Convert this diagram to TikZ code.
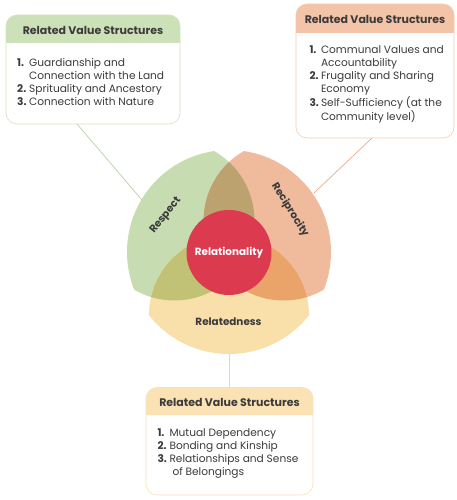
\documentclass[tikz,border=0pt]{standalone}
\usepackage{fontspec}
\setmainfont{Poppins}
\definecolor{petG}{HTML}{C7DDB1}
\definecolor{petO}{HTML}{F0BB9D}
\definecolor{petY}{HTML}{F9E0AB}
\definecolor{petGO}{HTML}{BBA26E}
\definecolor{petGY}{HTML}{C2C276}
\definecolor{petOY}{HTML}{EAA469}
\definecolor{hG}{HTML}{CCE1B8}
\definecolor{hO}{HTML}{F4C4A8}
\definecolor{hY}{HTML}{FAE2B4}
\definecolor{bG}{HTML}{D2E4C2}
\definecolor{bO}{HTML}{F3CCB5}
\definecolor{bY}{HTML}{F6E2BA}
\definecolor{lG}{HTML}{B9D2A3}
\definecolor{lO}{HTML}{EBAA88}
\definecolor{lY}{HTML}{EFD7A2}
\definecolor{relred}{HTML}{DC3A4F}
\definecolor{txt}{HTML}{3B3B3B}
\begin{document}
\begin{tikzpicture}[x=1pt,y=-1pt,
  head/.style={text=txt,font=\bfseries\fontsize{11}{13}\selectfont,inner sep=0pt},
  listtext/.style={text=txt,font=\fontsize{10.6}{13}\selectfont,inner sep=0pt,anchor=base west},
  petlabel/.style={text=txt,font=\bfseries\fontsize{10.4}{12}\selectfont,inner sep=0pt},
  boxframe/.style={rounded corners=11pt,line width=0.6pt,inner sep=0pt},
  conn/.style={line width=0.7pt}]
\useasboundingbox (0,0) rectangle (457,500);
\fill[white] (0,0) rectangle (457,500);

% petals
\coordinate (O) at (229,252);
\coordinate (cg) at (174.4,220.5);
\coordinate (co) at (283.6,220.5);
\coordinate (cy) at (229,315);
\begin{scope}
  \clip (O) circle (102pt);
  \fill[petG] (cg) circle (80pt);
  \fill[petO] (co) circle (80pt);
  \fill[petY] (cy) circle (80pt);
  \begin{scope}
    \clip (cg) circle (80pt);
    \fill[petGO] (co) circle (80pt);
    \fill[petGY] (cy) circle (80pt);
  \end{scope}
  \begin{scope}
    \clip (co) circle (80pt);
    \fill[petOY] (cy) circle (80pt);
  \end{scope}
\end{scope}

\node[circle,fill=relred,minimum size=85pt,inner sep=0pt,text=white,
      font=\bfseries\fontsize{10.4}{12}\selectfont] (rel) at (229,252.5) {Relationality};
\node[petlabel,rotate=51] (lresp) at (165.8,215.8) {Respect};
\node[petlabel,rotate=-58] (lrec) at (290,210) {Reciprocity};
\node[petlabel] (lreld) at (228.5,322) {Relatedness};

% box 1 (green)
\fill[white,rounded corners=11pt] (6,15) rectangle (180,124);
\fill[hG] (6,43) [rounded corners=11pt] -- (6,15) -- (180,15) [sharp corners] -- (180,43) -- cycle;
\node[boxframe,draw=bG,minimum width=174pt,minimum height=109pt] (box1) at (93,69.5) {};
\node[head] (h1) at (93,30.7) {Related Value Structures};
\node[listtext] (t1) at (17,66.3) {\begin{tabular}[t]{@{}p{12pt}@{}l@{}}
\textbf{1.} & Guardianship and\\
 & Connection with the Land\\
\textbf{2.} & Sprituality and Ancestory\\
\textbf{3.} & Connection with Nature
\end{tabular}};

% box 2 (orange)
\fill[white,rounded corners=11pt] (296,4) rectangle (454,138);
\fill[hO] (296,33) [rounded corners=11pt] -- (296,4) -- (454,4) [sharp corners] -- (454,33) -- cycle;
\node[boxframe,draw=bO,minimum width=158pt,minimum height=134pt] (box2) at (375,71) {};
\node[head] (h2) at (375,19.3) {Related Value Structures};
\node[listtext] (t2) at (309.3,54) {\begin{tabular}[t]{@{}p{11.5pt}@{}l@{}}
\textbf{1.} & Communal Values and\\
 & Accountability\\
\textbf{2.} & Frugality and Sharing\\
 & Economy\\
\textbf{3.} & Self-Sufficiency (at the\\
 & Community level)
\end{tabular}};

% box 3 (yellow)
\fill[white,rounded corners=11pt] (146,387.5) rectangle (313,495);
\fill[hY] (146,415) [rounded corners=11pt] -- (146,387.5) -- (313,387.5) [sharp corners] -- (313,415) -- cycle;
\node[boxframe,draw=bY,minimum width=167pt,minimum height=107.5pt] (box3) at (229.5,441.25) {};
\node[head] (h3) at (229.5,402.3) {Related Value Structures};
\node[listtext] (t3) at (157.3,436.6) {\begin{tabular}[t]{@{}p{12pt}@{}l@{}}
\textbf{1.} & Mutual Dependency\\
\textbf{2.} & Bonding and Kinship\\
\textbf{3.} & Relationships and Sense\\
 & \hspace{3pt}of Belongings
\end{tabular}};

% connectors
\coordinate (c1a) at (77,124);
\coordinate (c1b) at (142,200);
\coordinate (c2a) at (372,138);
\coordinate (c2b) at (314,193);
\coordinate (c3a) at (229.5,354);
\draw[conn,lG] (c1a) -- (c1b);
\draw[conn,lO] (c2a) -- (c2b);
\draw[conn,lY] (c3a) -- (box3.north);
\end{tikzpicture}
\end{document}
